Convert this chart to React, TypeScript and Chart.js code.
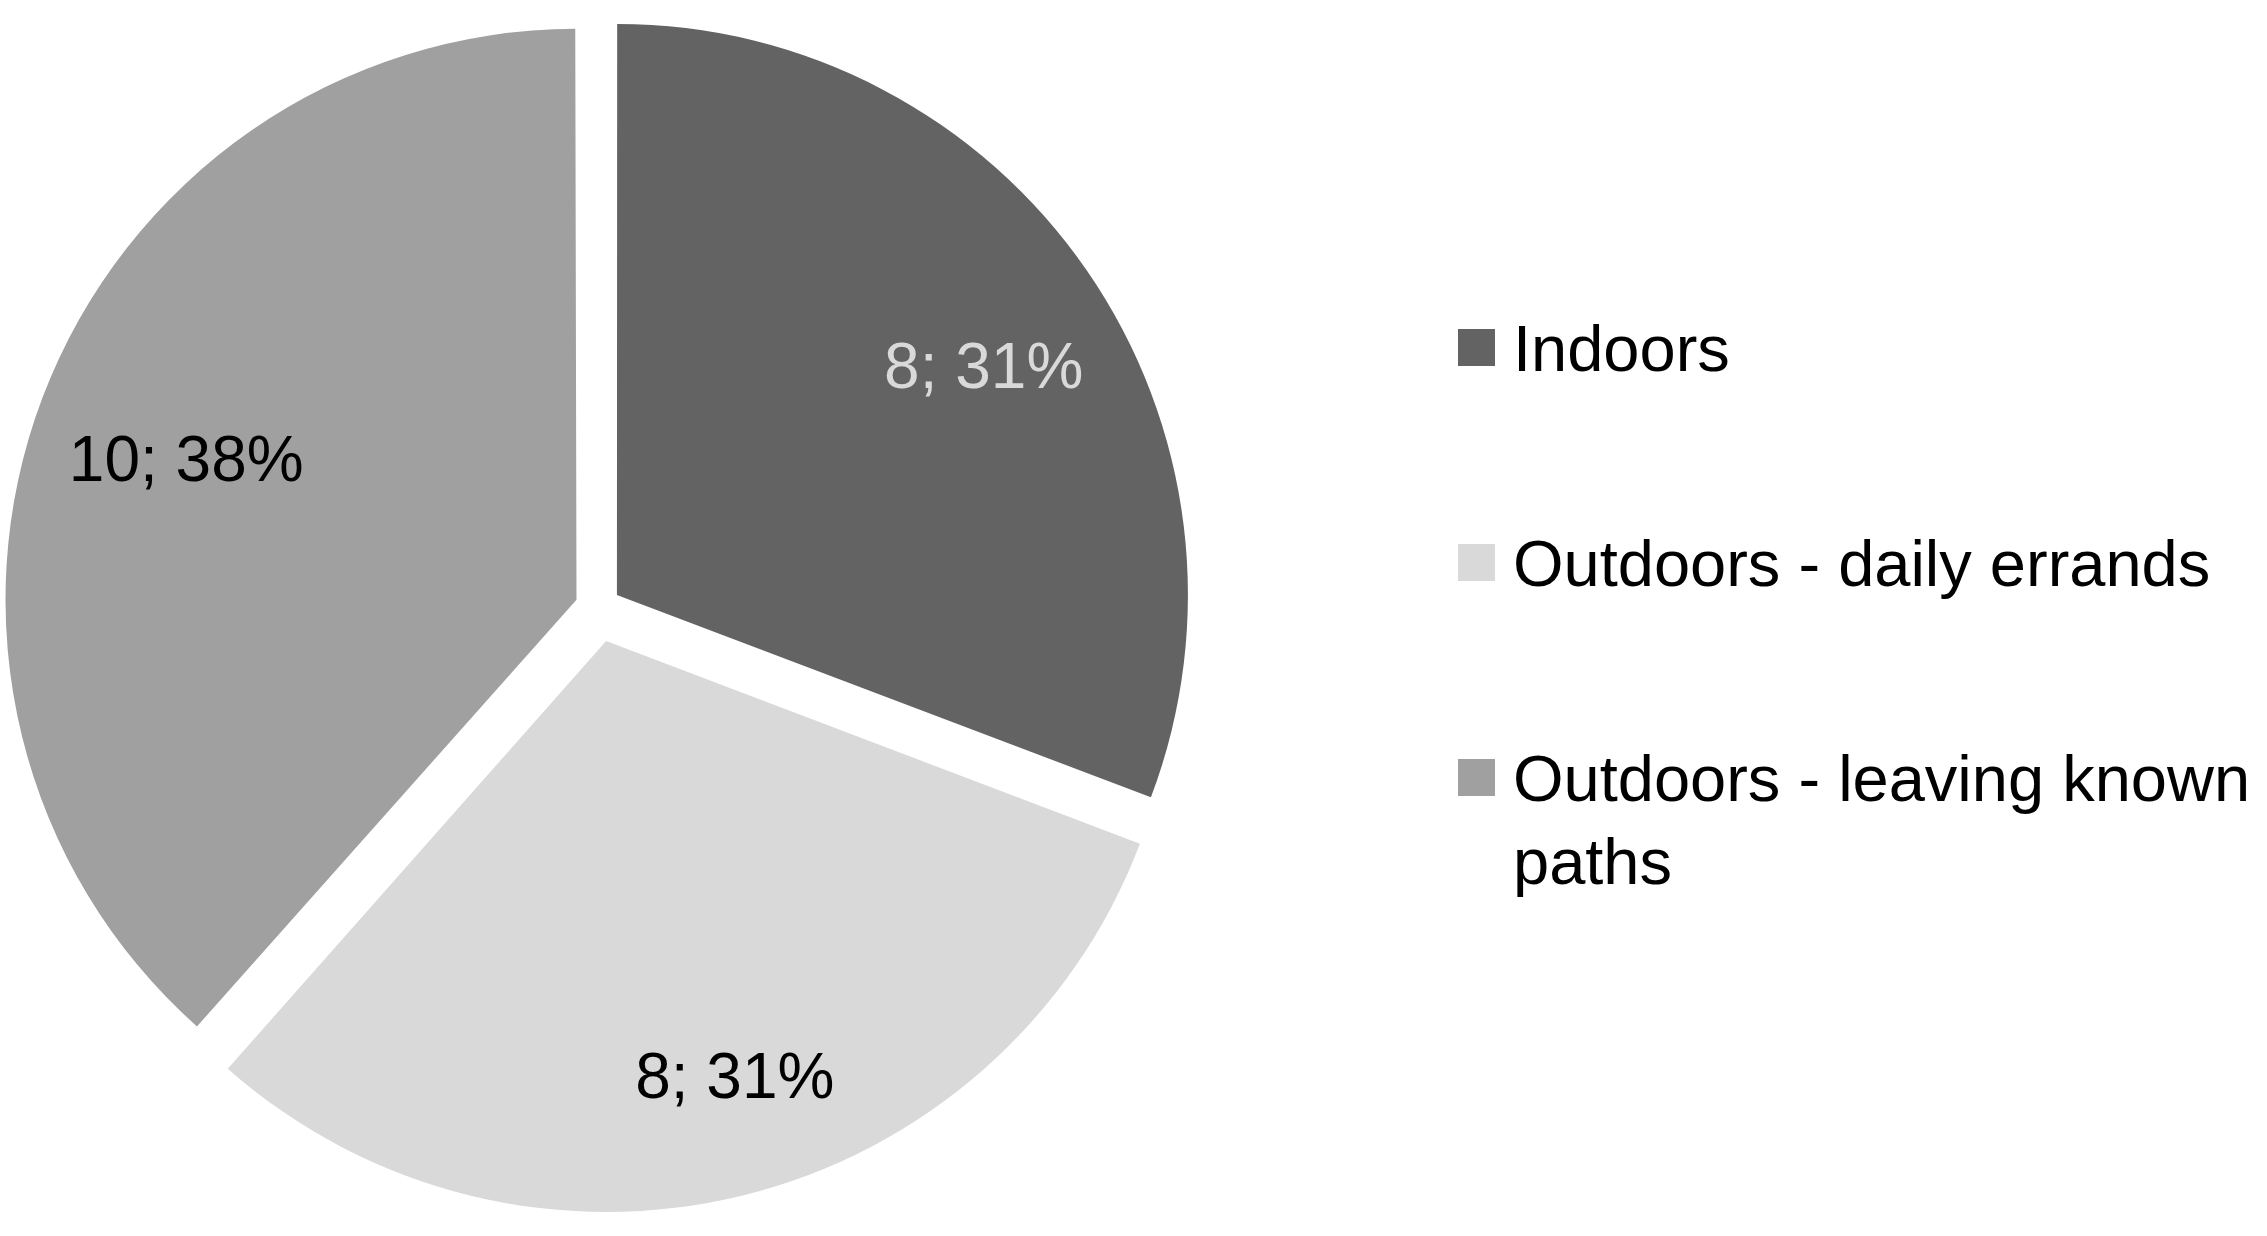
import React, { useEffect, useRef } from 'react';
import { Chart, registerables } from 'chart.js';

Chart.register(...registerables);

const categories = ['Indoors', 'Outdoors - daily errands', 'Outdoors - leaving known paths'];
const values = [8, 8, 10];
const colors = ['#636363', '#d9d9d9', '#a0a0a0'];
const labelColors = ['#d9d9d9', '#000000', '#000000'];
// Chart.js moves an arc by offset/4 px along its mid angle
const explode = [92, 136, 92];
// label placement inside each slice: fraction of the slice's angle, fraction of radius
const labelAngleFrac = [0.523, 0.476, 0.494];
const labelRadiusFrac = [0.758, 0.793, 0.727];

const FONT = '"Liberation Sans", Arial, sans-serif';
const LABEL_SIZE = 64;

// keep every exploded slice at the same outer radius (undo Chart.js's offset radius fix)
const equalRadius = {
  id: 'equalRadius',
  beforeDatasetsDraw(chart: any) {
    const meta = chart.getDatasetMeta(0);
    const base = meta.controller.outerRadius;
    meta.data.forEach((arc: any, i: number) => {
      const circ = arc.endAngle - arc.startAngle;
      const fix = 1 - Math.sin(Math.min(Math.PI, circ));
      arc.outerRadius = base - (explode[i] / 4) * fix;
    });
  },
};

const sliceLabels = {
  id: 'sliceLabels',
  afterDatasetsDraw(chart: any) {
    const ctx = chart.ctx;
    const meta = chart.getDatasetMeta(0);
    const base = meta.controller.outerRadius;
    const total = values.reduce((a, b) => a + b, 0);
    meta.data.forEach((arc: any, i: number) => {
      const { x, y, startAngle, endAngle } = arc;
      const mid = (startAngle + endAngle) / 2;
      const ox = x + Math.cos(mid) * (explode[i] / 4);
      const oy = y + Math.sin(mid) * (explode[i] / 4);
      const a = startAngle + labelAngleFrac[i] * (endAngle - startAngle);
      const d = labelRadiusFrac[i] * base;
      ctx.save();
      ctx.font = `${LABEL_SIZE}px ${FONT}`;
      ctx.fillStyle = labelColors[i];
      ctx.textAlign = 'center';
      ctx.textBaseline = 'alphabetic';
      ctx.fillText(
        `${values[i]}; ${Math.round((values[i] / total) * 100)}%`,
        ox + Math.cos(a) * d,
        oy + Math.sin(a) * d + LABEL_SIZE * 0.358
      );
      ctx.restore();
    });
  },
};

export default function App() {
  const canvasRef = useRef<HTMLCanvasElement | null>(null);

  useEffect(() => {
    document.body.style.margin = '0';
    const canvas = canvasRef.current;
    if (!canvas) return;
    const chart = new Chart(canvas, {
      type: 'pie',
      data: {
        labels: categories,
        datasets: [
          {
            data: values,
            backgroundColor: colors,
            borderWidth: 0,
            offset: explode,
            hoverOffset: 0,
          },
        ],
      },
      options: {
        responsive: false,
        animation: false,
        radius: 571,
        layout: { padding: { left: 0, right: 1071, top: 0, bottom: 20 } },
        plugins: {
          legend: { display: false },
          tooltip: { enabled: false },
        },
        events: [],
      },
      plugins: [equalRadius, sliceLabels],
    });
    return () => chart.destroy();
  }, []);

  const legendTops = [307, 522, 737];

  return (
    <div style={{ position: 'fixed', left: 0, top: 0, width: 2267, height: 1236, background: '#ffffff' }}>
      <canvas ref={canvasRef} width={2267} height={1236} style={{ position: 'absolute', left: 0, top: 0 }} />
      {categories.map((c, i) => (
        <div
          key={c}
          style={{
            position: 'absolute',
            left: 1458,
            top: legendTops[i],
            display: 'flex',
            alignItems: 'flex-start',
          }}
        >
          <div style={{ width: 37, height: 37, marginTop: 22, background: colors[i], flex: 'none' }} />
          <div
            style={{
              marginLeft: 18,
              width: 750,
              font: `65px ${FONT}`,
              lineHeight: '83px',
              color: '#000000',
            }}
          >
            {c}
          </div>
        </div>
      ))}
    </div>
  );
}
